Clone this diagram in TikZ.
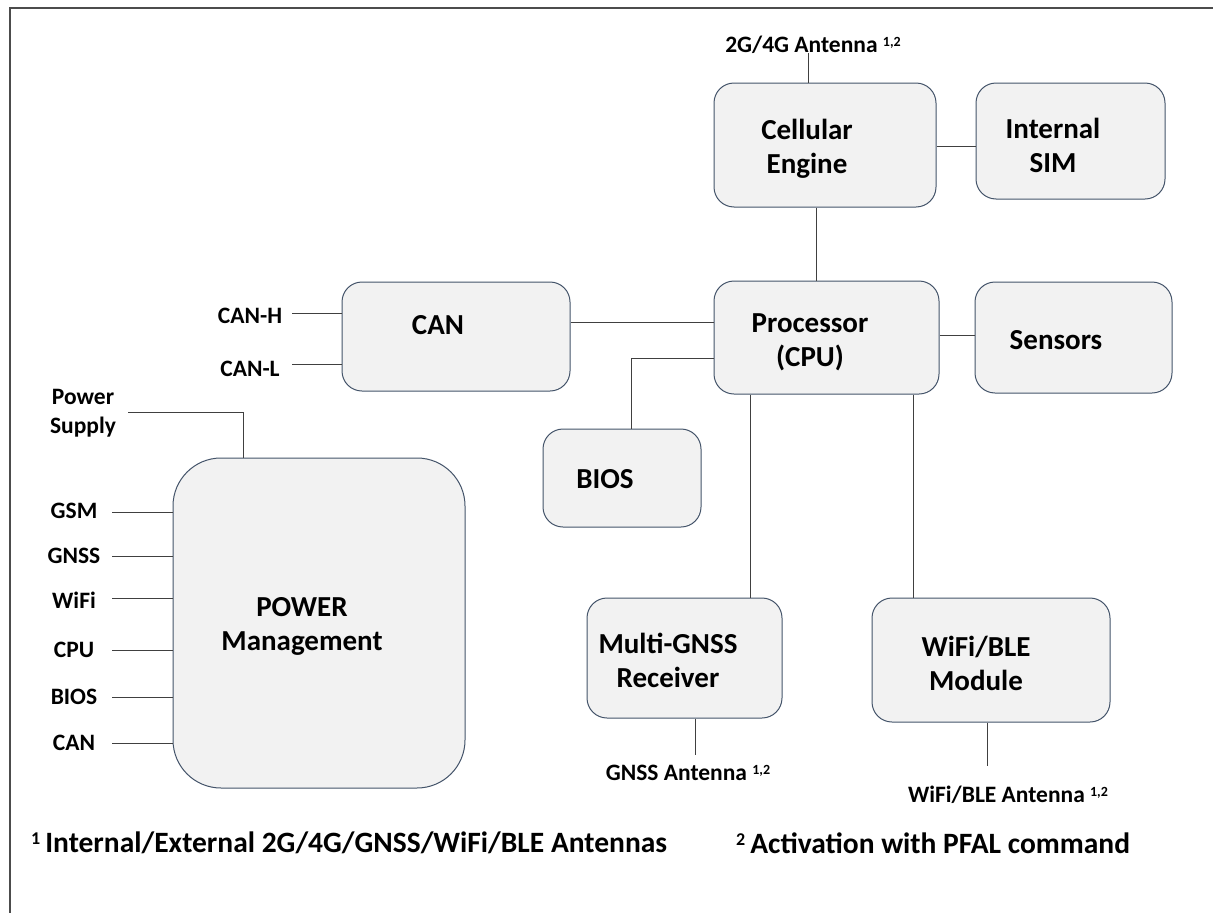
\documentclass[tikz,border=0pt]{standalone}
\usepackage{fontspec}
\setmainfont{Carlito}
\definecolor{boxc}{HTML}{44546A}
\definecolor{boxf}{HTML}{F2F2F2}
\definecolor{wirec}{HTML}{404040}
\tikzset{
  box/.style={draw=boxc, fill=boxf, line width=1pt, rounded corners=20pt, inner sep=0pt},
  txt/.style={font=\fontsize{29}{34}\selectfont\bfseries, align=center, inner sep=0pt},
  lbl/.style={font=\fontsize{23.5}{29}\selectfont\bfseries, align=center, inner sep=0pt},
  foot/.style={font=\fontsize{29.5}{34}\selectfont\bfseries, inner sep=0pt, anchor=west},
  wire/.style={draw=wirec, line width=1pt},
  frame/.style={draw=black!70, line width=2pt}
}
\newcommand{\supx}[1]{\raisebox{6pt}{\fontsize{14}{16}\selectfont #1}}
\newcommand{\supf}[1]{\raisebox{8pt}{\fontsize{18}{20}\selectfont #1}}
\begin{document}
\begin{tikzpicture}[x=1pt,y=-1pt]
\useasboundingbox (0,0) rectangle (1213,913);
\draw[frame] (10,913) -- (10,8) -- (1213,8);

% boxes
\node[box, minimum width=222pt, minimum height=124pt] (cell) at (825,145) {};
\node[txt] at (807,149) {Cellular\\Engine};
\node[box, minimum width=189pt, minimum height=116pt] (sim) at (1070.5,141) {};
\node[txt] at (1053,145) {Internal\\SIM};
\node[box, minimum width=225pt, minimum height=113pt] (proc) at (826.5,337.5) {};
\node[txt] at (810,342) {Processor\\(CPU)};
\node[box, minimum width=197pt, minimum height=111pt] (sens) at (1073.5,337.5) {};
\node[txt] at (1056,340) {Sensors};
\node[box, minimum width=228pt, minimum height=109pt] (can) at (456,336.5) {};
\node[txt] at (438,325) {CAN};
\node[box, minimum width=158pt, minimum height=98pt] (bios) at (622,478) {};
\node[txt] at (605,479) {BIOS};
\node[box, rounded corners=48pt, minimum width=292pt, minimum height=330pt] (pwr) at (319,623) {};
\node[txt] at (302,626) {POWER\\Management};
\node[box, minimum width=195pt, minimum height=120pt] (gnss) at (684.5,658) {};
\node[txt] at (668,660) {Multi-GNSS\\Receiver};
\node[box, minimum width=238pt, minimum height=124pt] (wifi) at (991,660) {};
\node[txt] at (976,663) {WiFi/BLE\\Module};

% labels
\node[lbl] (ant1) at (813,45) {2G/4G Antenna \supx{1,2}};
\node[lbl] (canh) at (250,316) {CAN-H};
\node[lbl] (canl) at (250,369) {CAN-L};
\node[lbl] (psup) at (83,413) {Power\\Supply};
\node[lbl] (gsm) at (74,511) {GSM};
\node[lbl] (gnssl) at (74,556) {GNSS};
\node[lbl] (wifil) at (74,600) {WiFi};
\node[lbl] (cpul) at (74,650) {CPU};
\node[lbl] (biosl) at (74,697) {BIOS};
\node[lbl] (canp) at (74,743) {CAN};
\node[lbl] (ant2) at (688,773) {GNSS Antenna \supx{1,2}};
\node[lbl] (ant3) at (1008,795) {WiFi/BLE Antenna \supx{1,2}};

% connectors
\coordinate (a1) at (808,53);
\draw[wire] (a1) -- (a1 |- cell.north);
\draw[wire] (816,0 |- cell.south) -- (816,0 |- proc.north);
\draw[wire] (cell.east |- 0,146) -- (sim.west |- 0,146);
\draw[wire] (proc.east |- 0,335) -- (sens.west |- 0,335);
\draw[wire] (can.east |- 0,322) -- (proc.west |- 0,322);
\draw[wire] (proc.west |- 0,358) -- (631,358) -- (631,0 |- bios.north);
\draw[wire] (750,0 |- proc.south) -- (750,0 |- gnss.north);
\draw[wire] (913,0 |- proc.south) -- (913,0 |- wifi.north);
\coordinate (a2) at (695,755);
\draw[wire] (a2 |- gnss.south) -- (a2);
\coordinate (a3) at (987,766);
\draw[wire] (a3 |- wifi.south) -- (a3);
\draw[wire] (292,313) -- (can.west |- 0,313);
\draw[wire] (292,364) -- (can.west |- 0,364);
\coordinate (ps) at (128,412);
\draw[wire] (ps) -- (243,412) -- (243,0 |- pwr.north);
\foreach \n/\yy in {gsm/512,gnssl/556,wifil/598,cpul/650,biosl/697,canp/743}
  \draw[wire] (112,\yy) -- (pwr.west |- 0,\yy);

% footnotes
\node[foot] (f1) at (31,843) {\supf{1}\hspace{5pt}Internal/External 2G/4G/GNSS/WiFi/BLE Antennas};
\node[foot] (f2) at (736,843) {\supf{2}\hspace{5pt}Activation with PFAL command};
\end{tikzpicture}
\end{document}
